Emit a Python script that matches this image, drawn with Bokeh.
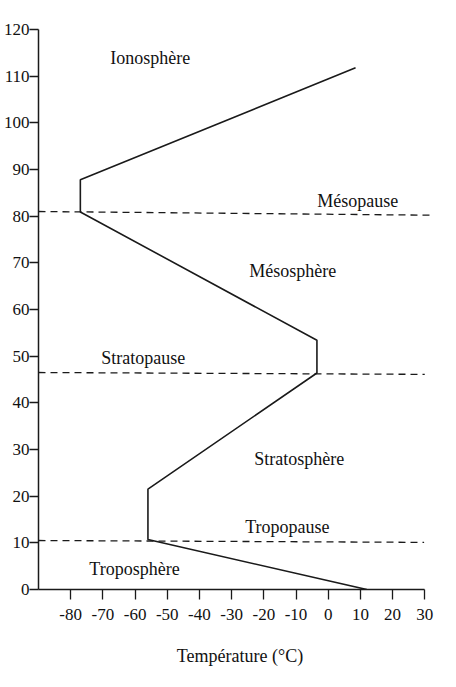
from bokeh.plotting import figure
from bokeh.models import FixedTicker, ColumnDataSource, Range1d, PrintfTickFormatter
from bokeh.core.properties import value
from bokeh.embed import file_html
from bokeh.resources import INLINE

# Temperature profile (°C) vs altitude (km)
temp = [12, -56, -56, -3.5, -3.5, -77, -77, 8.5]
alt = [0, 10.7, 21.5, 46.4, 53.4, 80.9, 87.8, 111.8]

# Boundary dashed lines (start/end points)
pause_names = ["Mésopause", "Stratopause", "Tropopause"]
pause_x0 = [-90, -90, -90]
pause_y0 = [81.0, 46.5, 10.5]
pause_x1 = [32.8, 30.0, 29.8]
pause_y1 = [80.2, 46.1, 10.1]

# Region labels
label_text = ["Ionosphère", "Mésopause", "Mésosphère", "Stratopause",
              "Stratosphère", "Tropopause", "Troposphère"]
label_x = [-67.7, -3.4, -24.5, -70.5, -23.0, -25.8, -74.2]
label_y = [114.0, 83.2, 68.2, 49.7, 27.9, 13.3, 4.3]

x_ticks = [-80, -70, -60, -50, -40, -30, -20, -10, 0, 10, 20, 30]
y_ticks = [0, 10, 20, 30, 40, 50, 60, 70, 80, 90, 100, 110, 120]

FONT = "'Liberation Serif', 'Times New Roman', serif"

p = figure(width=456, height=687, output_backend="svg", toolbar_location=None,
           x_range=Range1d(-90, 35.2), y_range=Range1d(0, 120),
           min_border_left=38, min_border_right=15, min_border_top=29,
           min_border_bottom=98)
p.outline_line_color = None
p.background_fill_color = "white"
p.grid.visible = False

p.line(temp, alt, line_color="#1a1a1a", line_width=1.6)

p.segment(x0=pause_x0, y0=pause_y0, x1=pause_x1, y1=pause_y1,
          line_color="#1a1a1a", line_width=1.3, line_dash="7 5")

src = ColumnDataSource(dict(x=label_x, y=label_y, t=label_text))
p.text(x="x", y="y", text="t", source=src, text_font=value(FONT),
       text_font_size="18px", text_color="#111111",
       text_align="left", text_baseline="alphabetic")

xa = p.xaxis[0]
xa.ticker = FixedTicker(ticks=x_ticks)
xa.formatter = PrintfTickFormatter(format="%d")
xa.bounds = (-90, 30)
xa.axis_label = "Température (°C)"
xa.axis_label_text_font = FONT
xa.axis_label_text_font_style = "normal"
xa.axis_label_text_font_size = "18px"
xa.axis_label_standoff = 23
xa.major_label_text_font = FONT
xa.major_label_text_font_size = "17px"
xa.major_label_standoff = 9
xa.major_tick_out = 10
xa.major_tick_in = 0
xa.minor_tick_out = 0
xa.minor_tick_in = 0
xa.axis_line_width = 1.5
xa.major_tick_line_width = 1.3

ya = p.yaxis[0]
ya.ticker = FixedTicker(ticks=y_ticks)
ya.formatter = PrintfTickFormatter(format="%d")
ya.bounds = (0, 120)
ya.major_label_text_font = FONT
ya.major_label_text_font_size = "17px"
ya.major_label_standoff = 0
ya.major_tick_out = 9
ya.major_tick_in = 0
ya.minor_tick_out = 0
ya.minor_tick_in = 0
ya.axis_line_width = 1.5
ya.major_tick_line_width = 1.3

for ax in (xa, ya):
    ax.axis_line_color = "#1a1a1a"
    ax.major_tick_line_color = "#1a1a1a"
    ax.major_label_text_color = "#111111"
    ax.axis_label_text_color = "#111111"

open("out.html", "w").write(file_html(p, INLINE))
